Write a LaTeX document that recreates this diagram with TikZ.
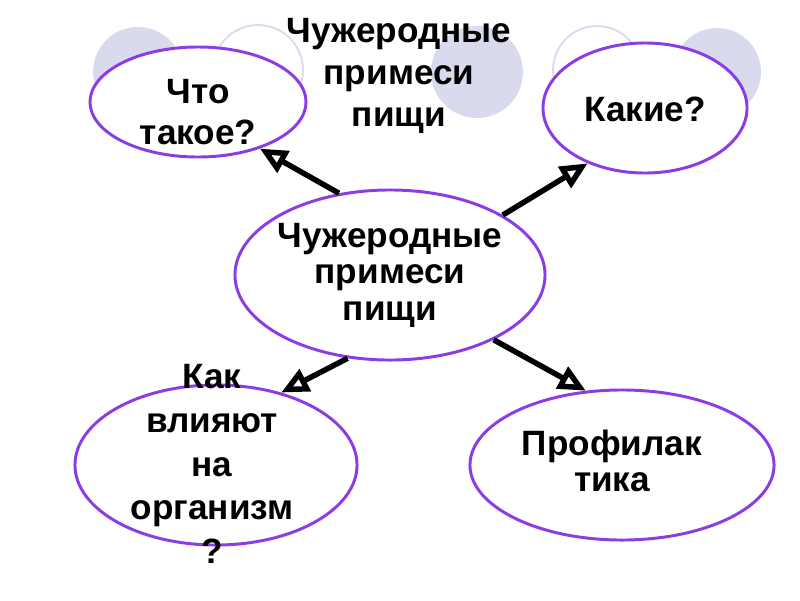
\documentclass[tikz,border=0pt]{standalone}
\usepackage{fontspec}
\setmainfont{Liberation Sans}
\usetikzlibrary{arrows.meta, shapes.geometric}
\definecolor{ovalline}{RGB}{140,60,228}
\definecolor{lilac}{RGB}{218,218,238}

\begin{document}
\begin{tikzpicture}[
  x=0.025cm, y=-0.025cm,
  oval/.style={
    ellipse, draw=ovalline, line width=2.1pt, fill=white, inner sep=0pt
  },
  lbl/.style={font=\bfseries\fontsize{25}{29}\selectfont, align=center, inner sep=0pt},
  ring/.style={draw=lilac, line width=1.3pt},
  arr/.style={-{Triangle[open, length=0.68cm, width=0.6cm]}, line width=3.9pt}
]
  \useasboundingbox (0,0) rectangle (800,600);

  % background circles
  \foreach \cx/\cy/\r in {138/72/45, 477/72/46, 717/72/44}
    \fill[lilac] (\cx,\cy) circle[radius=\r];
  \foreach \cx/\cy/\r in {258/70/45, 597/70/44}
    \draw[ring] (\cx,\cy) circle[radius=\r];

  \node[lbl, font=\bfseries\fontsize{25}{30}\selectfont] (title) at (399,76)
    {Чужеродные\\примеси\\пищи};

  % ovals
  \node[oval, minimum width=7.75cm, minimum height=4.25cm] (centre) at (390,275) {};
  \node[oval, minimum width=5.4cm, minimum height=2.75cm] (what) at (198,102) {};
  \node[oval, minimum width=5.1cm, minimum height=3.25cm] (which) at (645,108) {};
  \node[oval, minimum width=7.05cm, minimum height=4cm] (effect) at (216,465) {};
  \node[oval, minimum width=7.6cm, minimum height=3.75cm] (prevent) at (622,465) {};

  \node[lbl, font=\bfseries\fontsize{25}{26}\selectfont] (centreTxt) at (centre)
    {Чужеродные\\примеси\\пищи};
  \node[lbl] (whatTxt) at (198,112) {Что\\такое?};
  \node[lbl] (whichTxt) at (645,109) {Какие?};
  \node[lbl, font=\bfseries\fontsize{25}{31}\selectfont] (effectTxt) at (212,464)
    {Как\\влияют\\на\\организм\\?};
  \node[lbl, font=\bfseries\fontsize{25}{26}\selectfont] (preventTxt) at (612,461)
    {Профилак\\тика};

  % arrows
  \draw[arr] (centre.122) -- (what.-37);
  \draw[arr] (centre.28) -- (which.224);
  \draw[arr] (centre.243) -- (effect.48);
  \draw[arr] (centre.-32) -- (prevent.116);
\end{tikzpicture}
\end{document}
